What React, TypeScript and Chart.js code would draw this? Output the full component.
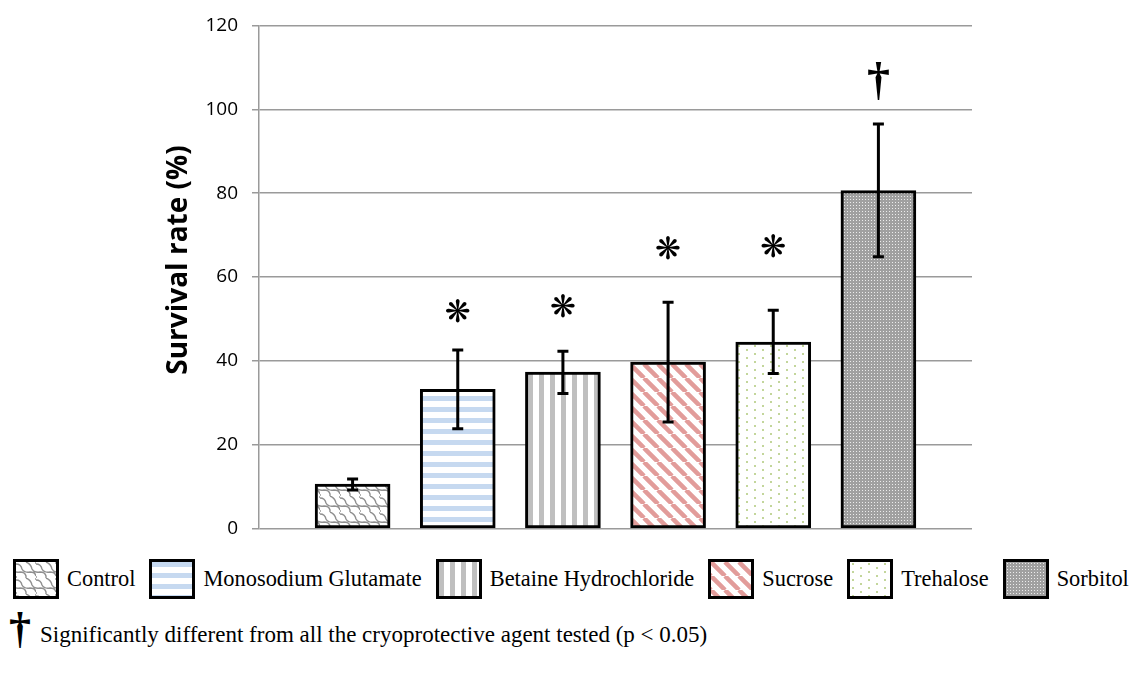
import React, { useEffect, useMemo, useRef } from 'react';
import { Chart, registerables } from 'chart.js';

Chart.register(...registerables);

const categories = ['Control', 'Monosodium Glutamate', 'Betaine Hydrochloride', 'Sucrose', 'Trehalose', 'Sorbitol'];
const survival = [10.6, 33.2, 37.3, 39.7, 44.5, 80.6];
const errLow = [9.2, 23.8, 32.2, 25.4, 37.0, 64.8];
const errHigh = [11.8, 42.6, 42.3, 54.0, 52.1, 96.5];
const markerText = ['', '❋', '❋', '❋', '❋', '†'];
const markerAt = [0, 51.1, 52.3, 66.1, 66.6, 106.5];
const yTicks = { min: 0, max: 120, step: 20 };
const yTitle = 'Survival rate (%)';

// pattern tiles for each bar
function makeTile(kind: string): HTMLCanvasElement {
  const c = document.createElement('canvas');
  const g = c.getContext('2d')!;
  const set = (w: number, h: number) => { c.width = w; c.height = h; g.fillStyle = '#fff'; g.fillRect(0, 0, w, h); };
  if (kind === 'control') {
    set(20, 16);
    g.strokeStyle = '#8f8f8f';
    g.lineWidth = 1.4;
    g.beginPath();
    // wavy cobble lines
    g.moveTo(0, 2); g.quadraticCurveTo(5, 2, 6, 7); g.quadraticCurveTo(8, 11, 14, 10); g.quadraticCurveTo(19, 10, 20, 14);
    g.moveTo(-6, 7); g.quadraticCurveTo(-2, 11, 4, 10); g.quadraticCurveTo(9, 10, 10, 14); g.lineTo(10, 16);
    g.moveTo(10, 0); g.quadraticCurveTo(15, 2, 16, 7); g.quadraticCurveTo(18, 11, 24, 10);
    g.moveTo(0, 14); g.lineTo(0, 16);
    g.moveTo(20, 0); g.lineTo(20, 2);
    g.stroke();
  } else if (kind === 'hstripe') {
    set(8, 11);
    g.fillStyle = '#c6d9f0';
    g.fillRect(0, 0, 8, 5);
  } else if (kind === 'vstripe') {
    set(11, 8);
    g.fillStyle = '#bfbfbf';
    g.fillRect(0, 0, 5, 8);
  } else if (kind === 'diag') {
    set(14, 14);
    g.strokeStyle = '#e29c9a';
    g.lineWidth = 4.5;
    g.beginPath();
    for (let k = -14; k <= 28; k += 14) { g.moveTo(k, 0); g.lineTo(k + 14, 14); }
    g.stroke();
  } else if (kind === 'dots') {
    set(16, 8);
    g.fillStyle = '#c3d69b';
    g.fillRect(2, 1, 2, 2);
    g.fillRect(10, 5, 2, 2);
  } else {
    set(3, 3);
    g.fillStyle = '#a0a0a0';
    g.fillRect(0, 0, 3, 3);
    g.fillStyle = '#ececec';
    g.fillRect(1, 1, 1, 1);
  }
  return c;
}

const tileKinds = ['control', 'hstripe', 'vstripe', 'diag', 'dots', 'sorbitol'];

const extrasPlugin = {
  id: 'extras',
  afterDatasetsDraw(chart: any) {
    const { ctx, scales, chartArea } = chart;
    const x = scales.x, y = scales.y;
    ctx.save();
    ctx.strokeStyle = '#000';
    ctx.lineWidth = 3;
    categories.forEach((_, i) => {
      const px = x.getPixelForValue(i);
      const lo = y.getPixelForValue(errLow[i]);
      const hi = y.getPixelForValue(errHigh[i]);
      ctx.beginPath();
      ctx.moveTo(px, lo); ctx.lineTo(px, hi);
      ctx.moveTo(px - 5.5, lo); ctx.lineTo(px + 5.5, lo);
      ctx.moveTo(px - 5.5, hi); ctx.lineTo(px + 5.5, hi);
      ctx.stroke();
      if (markerText[i]) {
        ctx.fillStyle = '#000';
        ctx.textAlign = 'center';
        ctx.textBaseline = 'middle';
        ctx.font = markerText[i] === '†' ? 'bold 46px "Liberation Serif"' : 'bold 31px "DejaVu Sans"';
        ctx.fillText(markerText[i], px, y.getPixelForValue(markerAt[i]));
      }
    });
    // axis title, sitting a little above the middle of the plot as in the source
    ctx.translate(chartArea.left - 80, (chartArea.top + chartArea.bottom) / 2 - 17);
    ctx.rotate(-Math.PI / 2);
    ctx.font = 'bold 28px "Open Sans"';
    ctx.fillStyle = '#000';
    ctx.textAlign = 'center';
    ctx.textBaseline = 'middle';
    ctx.fillText(yTitle, 0, 0);
    ctx.restore();
  },
};

export default function App() {
  const canvasRef = useRef<HTMLCanvasElement>(null);
  const tiles = useMemo(() => tileKinds.map(makeTile), []);
  const tileUrls = useMemo(() => tiles.map((t) => t.toDataURL()), [tiles]);

  useEffect(() => {
    const ctx = canvasRef.current!.getContext('2d')!;
    const patterns = tiles.map((t) => ctx.createPattern(t, 'repeat')!);
    const chart = new Chart(ctx, {
      type: 'bar',
      data: {
        datasets: [{
          data: categories.map((_, i) => ({ x: i, y: survival[i] })),
          backgroundColor: patterns,
          borderColor: '#000',
          borderWidth: 3,
          borderSkipped: false,
          barThickness: 75,
        }],
      },
      options: {
        animation: false,
        responsive: true,
        maintainAspectRatio: false,
        layout: { padding: { left: 163, right: 161, top: 22, bottom: 15 } },
        plugins: { legend: { display: false }, tooltip: { enabled: false } },
        scales: {
          x: { type: 'linear', min: -0.89, max: 5.89, offset: false, display: false },
          y: {
            min: yTicks.min,
            max: yTicks.max,
            afterFit: (s: any) => { s.width = 96; },
            ticks: { stepSize: yTicks.step, color: '#000', font: { family: 'Open Sans', size: 19 }, padding: 14 },
            grid: { color: '#9a9a9a', lineWidth: 1.5, tickLength: 7 },
            border: { color: '#9a9a9a', width: 1.5 },
          },
        },
      },
      plugins: [extrasPlugin],
    });
    return () => chart.destroy();
  }, [tiles]);

  const serif = '"Liberation Serif", "Times New Roman", serif';
  return (
    <div style={{ position: 'absolute', left: 0, top: 0, width: 1133, height: 676, background: '#fff' }}>
      <div style={{ position: 'absolute', left: 0, top: 0, width: 1133, height: 554 }}>
        <canvas ref={canvasRef}></canvas>
      </div>
      <div style={{ position: 'absolute', left: 13, top: 559, display: 'flex', alignItems: 'center', fontFamily: serif, fontSize: 22.4, color: '#000', whiteSpace: 'nowrap' }}>
        {categories.map((c, i) => (
          <div key={c} style={{ display: 'flex', alignItems: 'center', marginRight: 14 }}>
            <div style={{ width: 40, height: 34, border: '3px solid #000', backgroundImage: `url(${tileUrls[i]})`, marginRight: 8 }} />
            <span>{c}</span>
          </div>
        ))}
      </div>
      <div style={{ position: 'absolute', left: 9, top: 607, display: 'flex', alignItems: 'flex-end', fontFamily: serif, color: '#000', whiteSpace: 'nowrap' }}>
        <span style={{ fontSize: 44, lineHeight: '44px', fontWeight: 'bold', width: 31 }}>†</span>
        <span style={{ fontSize: 23, lineHeight: '26px', marginBottom: 3 }}>Significantly different from all the cryoprotective agent tested (p &lt; 0.05)</span>
      </div>
    </div>
  );
}
